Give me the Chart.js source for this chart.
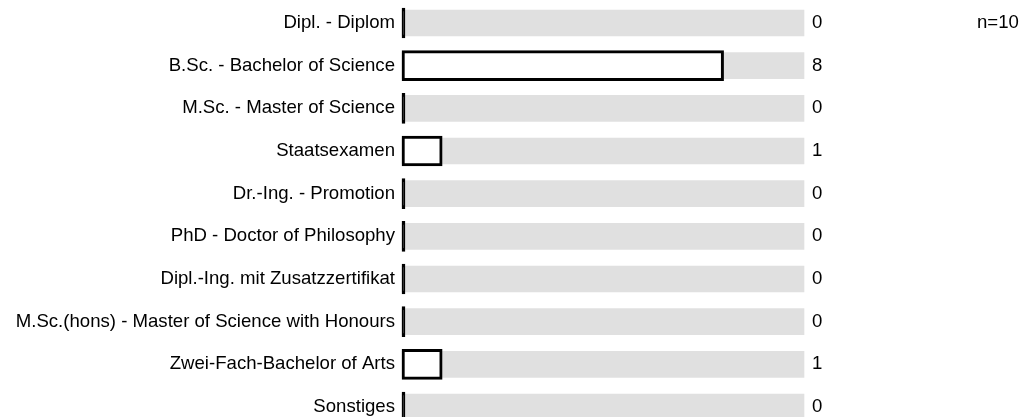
<!DOCTYPE html>
<html>
<head>
<meta charset="utf-8">
<script src="https://cdn.jsdelivr.net/npm/chart.js@4.4.1/dist/chart.umd.min.js"></script>
<style>
  html, body { margin: 0; padding: 0; background: #fff; overflow: hidden; }
  #wrap { width: 1035px; height: 417px; position: relative; }
</style>
</head>
<body>
<div id="wrap"><canvas id="chart"></canvas></div>
<script>
const categories = [
    'Dipl. - Diplom',
    'B.Sc. - Bachelor of Science',
    'M.Sc. - Master of Science',
    'Staatsexamen',
    'Dr.-Ing. - Promotion',
    'PhD - Doctor of Philosophy',
    'Dipl.-Ing. mit Zusatzzertifikat',
    'M.Sc.(hons) - Master of Science with Honours',
    'Zwei-Fach-Bachelor of Arts',
    'Sonstiges'
];
const counts = [0, 8, 0, 1, 0, 0, 0, 0, 1, 0];
const trackValues = [10, 10, 10, 10, 10, 10, 10, 10, 10, 10];
const totalN = 10;

const FONT = '"Liberation Sans", Arial, Helvetica, sans-serif';
const FONT_SIZE = 18.6;

// value labels on the right and the n= note
const labelPlugin = {
    id: 'valueLabels',
    afterDatasetsDraw(chart) {
        const c = chart.ctx;
        const meta = chart.getDatasetMeta(0);
        const area = chart.chartArea;
        c.save();
        c.font = FONT_SIZE + 'px ' + FONT;
        c.fillStyle = '#000';
        c.textAlign = 'left';
        c.textBaseline = 'middle';
        meta.data.forEach((bar, i) => {
            c.fillText(String(counts[i]), area.right + 8, bar.y);
        });
        c.fillText('n=' + totalN, area.right + 173, meta.data[0].y);
        c.restore();
    }
};

const ctx = document.getElementById('chart').getContext('2d');
const chart = new Chart(ctx, {
    type: 'bar',
    data: {
        labels: categories,
        datasets: [{
            label: 'Anzahl',
            data: counts,
            // zero values show up as a thin black stub
            backgroundColor: c => counts[c.dataIndex] === 0 ? '#000000' : '#ffffff',
            borderColor: '#000000',
            borderWidth: 3,
            borderSkipped: false,
            barThickness: 30,
            minBarLength: 3,
            grouped: false,
            clip: false,
            order: 0
        }, {
            label: 'track',
            data: trackValues,
            backgroundColor: '#e0e0e0',
            borderWidth: 0,
            barThickness: 26,
            grouped: false,
            clip: false,
            order: 1
        }]
    },
    options: {
        indexAxis: 'y',
        responsive: true,
        maintainAspectRatio: false,
        animation: false,
        layout: {
            padding: { top: 23, bottom: 10, left: 0, right: 231 }
        },
        scales: {
            x: {
                min: 0,
                max: 10,
                display: false
            },
            y: {
                offset: false,
                grid: { display: false, drawTicks: false },
                border: { display: false },
                ticks: {
                    color: '#000',
                    padding: 7,
                    font: { family: FONT, size: FONT_SIZE }
                },
                afterFit(scale) {
                    scale.width = 402;
                    scale.paddingTop = 0;
                    scale.paddingBottom = 0;
                }
            }
        },
        plugins: {
            legend: { display: false },
            tooltip: { enabled: false }
        }
    },
    plugins: [labelPlugin]
});
</script>
</body>
</html>
